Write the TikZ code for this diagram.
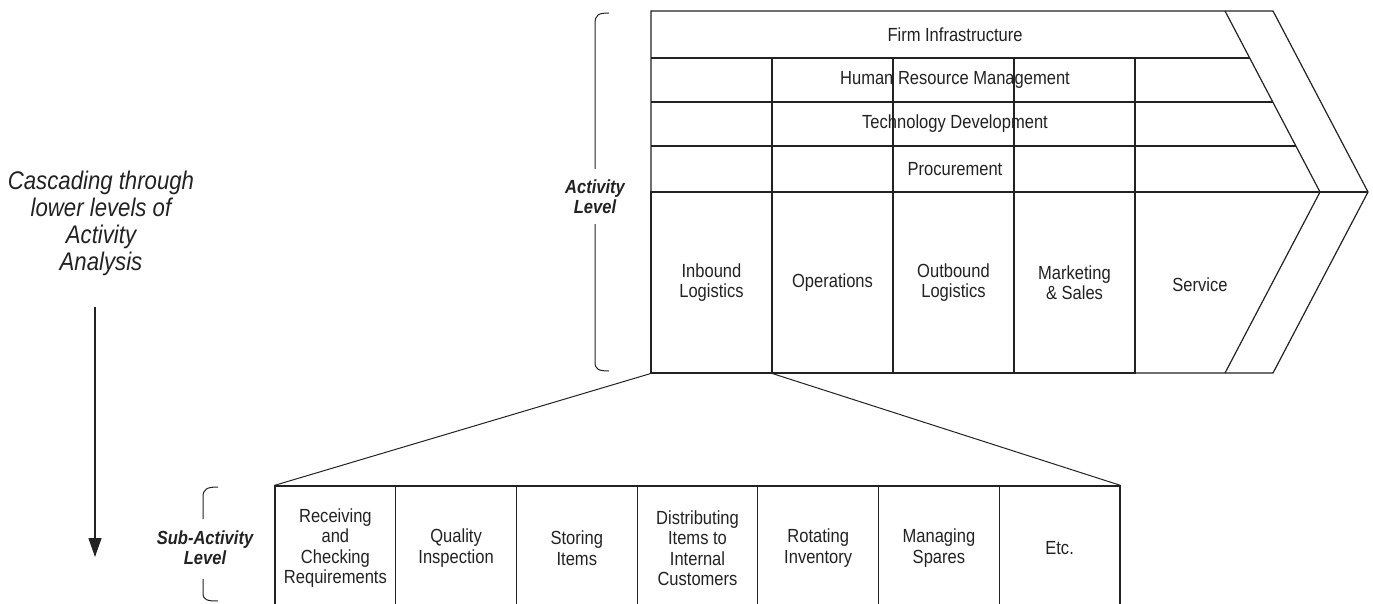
\documentclass[tikz,border=0pt]{standalone}
\usepackage{fontspec}
\setmainfont{Liberation Sans}[FakeStretch=0.87]
\usetikzlibrary{arrows.meta}
\definecolor{ink}{HTML}{222222}

\begin{document}
\begin{tikzpicture}[x=1bp,y=-1bp,line width=1.2bp,draw=ink,text=ink,
  lbl/.style={font=\fontsize{19bp}{20.5bp}\selectfont,align=center,inner sep=0pt},
  levellbl/.style={font=\fontsize{19bp}{20bp}\selectfont\bfseries\itshape,align=center,inner sep=0pt},
  primary/.style={lbl,draw,minimum width=121bp,minimum height=181bp},
  subcell/.style={lbl,draw,minimum width=120.7bp,minimum height=124bp},
  brace/.style={line width=1bp},
  cascade/.style={-{Triangle[width=13bp,length=19bp]},line width=1.2bp}]

\useasboundingbox (0,0) rectangle (1373,604);
\clip (0,0) rectangle (1373,604);

% value chain outline and inner chevron
\draw[line join=miter] (651,11) -- (1273,11) -- (1368,192) -- (1273,373) -- (651,373) -- cycle;
\draw (1225,11) -- (1320,192) -- (1225,373);

% support activity rows
\draw (651,58)  -- (1249.7,58);
\draw (651,102) -- (1272.8,102);
\draw (651,146) -- (1295.9,146);
\draw (651,192) -- (1368,192);
\foreach \x in {772,893,1014,1135}
  \draw (\x,58) -- (\x,192);

\node[lbl] (firm) at (955,35)  {Firm Infrastructure};
\node[lbl] (hrm)  at (955,80)  {Human Resource Management};
\node[lbl] (tech) at (955,124) {Technology Development};
\node[lbl] (proc) at (955,169) {Procurement};

% primary activities
\node[primary] (inb) at (711.5,282.5)  {Inbound\\Logistics};
\node[primary] (ops) at (832.5,282.5)  {Operations};
\node[primary] (outb) at (953.5,282.5) {Outbound\\Logistics};
\node[primary] (mkt) at (1074.5,282.5) {Marketing\\\& Sales};
\node[lbl] (srv) at (1200,285) {Service};

% activity level brace
\node[levellbl] (actlvl) at (595,197) {Activity\\Level};
\draw[brace] (609,13) .. controls (598,13) and (595,15) .. (595,24) -- (595,169);
\draw[brace] (595,224) -- (595,362) .. controls (595,369) and (598,371) .. (609,371);

% sub-activities
\node[subcell] (s1) at (335.4,548) {Receiving\\and\\Checking\\Requirements};
\node[subcell] (s2) at (456.1,548) {Quality\\Inspection};
\node[subcell] (s3) at (576.8,548) {Storing\\Items};
\node[subcell] (s4) at (697.5,548) {Distributing\\Items to\\Internal\\Customers};
\node[subcell] (s5) at (818.2,548) {Rotating\\Inventory};
\node[subcell] (s6) at (938.9,548) {Managing\\Spares};
\node[subcell] (s7) at (1059.6,548) {Etc.};

% expansion of inbound logistics
\draw[line width=1bp] (inb.south west) -- (s1.north west);
\draw[line width=1bp] (inb.south east) -- (s7.north east);

% sub-activity level brace
\node[levellbl] (sublvl) at (205,548) {Sub-Activity\\Level};
\draw[brace] (218,487) .. controls (207,487) and (203,489) .. (203,497) -- (203,519);
\draw[brace] (203,579) -- (203,593) .. controls (203,600) and (207,601) .. (218,601);

% cascading note and arrow
\node[font=\fontsize{25.5bp}{27bp}\selectfont\itshape,align=center,inner sep=0pt] (casc) at (101,223)
  {Cascading through\\lower levels of\\Activity\\Analysis};
\coordinate (arrtop) at (95,307);
\coordinate (arrend) at (95,557);
\draw[cascade] (arrtop) -- (arrend);
\end{tikzpicture}
\end{document}
